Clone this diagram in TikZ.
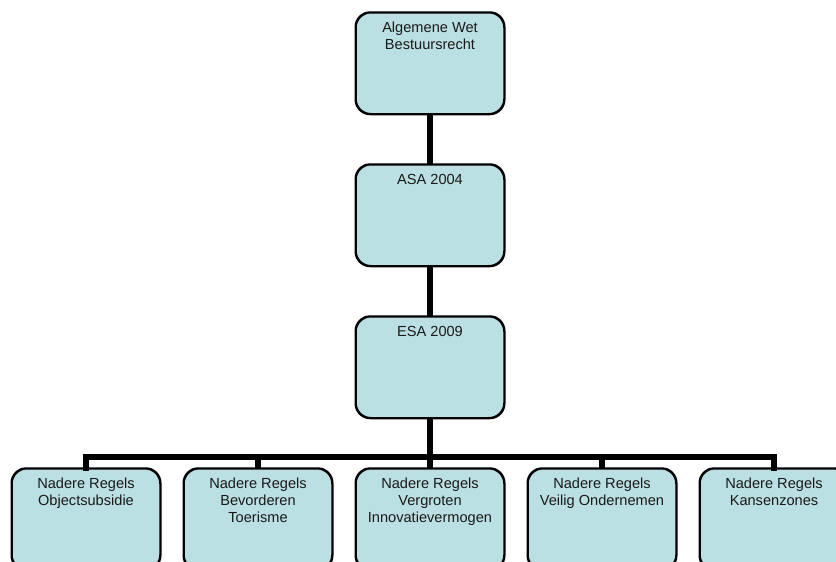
\documentclass[tikz,border=0pt]{standalone}
\usepackage{fontspec}
\setmainfont{Liberation Sans}
\definecolor{boxfill}{RGB}{187,224,227}
\tikzset{
  orgbox/.style={draw=black, line width=1.5pt, fill=boxfill, rounded corners=15pt,
    minimum width=148pt, minimum height=101pt, inner sep=0pt, anchor=north},
  orgtext/.style={anchor=north, inner sep=0pt, align=center, font=\fontsize{14.6pt}{16.8pt}\selectfont, text=black!90},
  conn/.style={line width=5.5pt, black}
}
\begin{document}
\begin{tikzpicture}[x=1pt,y=-1pt]
\useasboundingbox (0,0) rectangle (836,562);
\clip (0,0) rectangle (836,562);
% boxes
\node[orgbox] (awb) at (430,12) {};
\node[orgbox] (asa) at (430,164) {};
\node[orgbox] (esa) at (430,316) {};
\node[orgbox] (b1) at (86,468) {};
\node[orgbox] (b2) at (258,468) {};
\node[orgbox] (b3) at (430,468) {};
\node[orgbox] (b4) at (602,468) {};
\node[orgbox] (b5) at (774,468) {};
% connectors
\coordinate (bar) at (430,457);
\draw[conn] (awb.south) -- (asa.north);
\draw[conn] (asa.south) -- (esa.north);
\draw[conn] (esa.south) -- (b3.north);
\draw[conn, line cap=rect] (b1.north) -- (b1.north |- bar) -- (b5.north |- bar) -- (b5.north);
\draw[conn] (b2.north |- bar) -- (b2.north);
\draw[conn] (b4.north |- bar) -- (b4.north);
% redraw box borders over connector ends
\foreach \n in {awb,asa,esa,b1,b2,b3,b4,b5}{
  \draw[line width=1.5pt, rounded corners=15pt] (\n.north west) rectangle (\n.south east);
}
% texts
\node[orgtext] (tawb) at ([yshift=-10pt]awb.north) {Algemene Wet\\Bestuursrecht};
\node[orgtext] (tasa) at ([yshift=-10pt]asa.north) {ASA 2004};
\node[orgtext] (tesa) at ([yshift=-10pt]esa.north) {ESA 2009};
\node[orgtext] (t1) at ([yshift=-10pt]b1.north) {Nadere Regels\\Objectsubsidie};
\node[orgtext] (t2) at ([yshift=-10pt]b2.north) {Nadere Regels\\Bevorderen\\Toerisme};
\node[orgtext] (t3) at ([yshift=-10pt]b3.north) {Nadere Regels\\Vergroten\\Innovatievermogen};
\node[orgtext] (t4) at ([yshift=-10pt]b4.north) {Nadere Regels\\Veilig Ondernemen};
\node[orgtext] (t5) at ([yshift=-10pt]b5.north) {Nadere Regels\\Kansenzones};
\end{tikzpicture}
\end{document}
